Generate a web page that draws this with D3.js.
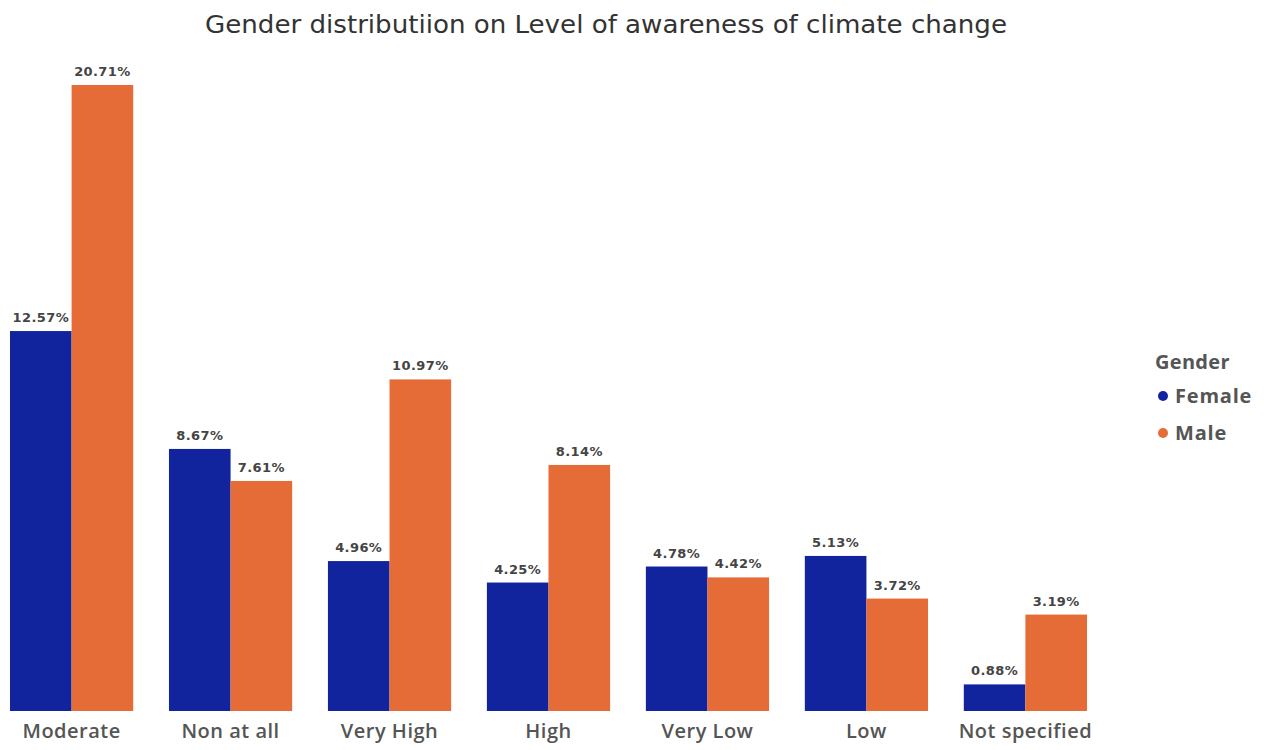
<!DOCTYPE html>
<html><head><meta charset="utf-8">
<script src="https://cdn.jsdelivr.net/npm/d3@7/dist/d3.min.js"></script>
<style>body{margin:0;background:#fff}svg{display:block}</style>
</head><body>
<svg id="c" width="1264" height="750"></svg>
<script>
const categories = ["Moderate","Non at all","Very High","High","Very Low","Low","Not specified"];
const seriesNames = ["Female","Male"];
const female = [12.57, 8.67, 4.96, 4.25, 4.78, 5.13, 0.88];
const male = [20.71, 7.61, 10.97, 8.14, 4.42, 3.72, 3.19];
const colors = ["#12239E","#E66C37"];
const title = "Gender distributiion on Level of awareness of climate change";

const svg = d3.select("#c");
const baseY = 711;
const x0 = d3.scaleBand().domain(categories).range([10,1087]).paddingInner(0.225).paddingOuter(0);
const x1 = d3.scaleBand().domain(seriesNames).range([0,x0.bandwidth()]);
const y = d3.scaleLinear().domain([0,20.71]).range([baseY,85]);
const color = d3.scaleOrdinal().domain(seriesNames).range(colors);

const data = categories.map((c,i)=>({c, vals:[{s:"Female",v:female[i]},{s:"Male",v:male[i]}]}));

svg.append("text").attr("x",606).attr("y",33).attr("text-anchor","middle")
  .attr("font-family","'DejaVu Sans Condensed','DejaVu Sans',sans-serif").attr("font-size",24)
  .attr("fill","#333").attr("textLength",802).attr("lengthAdjust","spacingAndGlyphs").text(title);

const g = svg.append("g");
const grp = g.selectAll("g.cat").data(data).join("g").attr("transform",d=>`translate(${x0(d.c)},0)`);
grp.selectAll("rect").data(d=>d.vals).join("rect")
  .attr("x",d=>x1(d.s)).attr("width",x1.bandwidth())
  .attr("y",d=>y(d.v)).attr("height",d=>baseY-y(d.v)).attr("fill",d=>color(d.s));
grp.selectAll("text.v").data(d=>d.vals).join("text").attr("class","v")
  .attr("x",d=>x1(d.s)+x1.bandwidth()/2).attr("y",d=>y(d.v)-9)
  .attr("text-anchor","middle").attr("font-family","'DejaVu Sans',sans-serif")
  .attr("font-size",13).attr("font-weight",600).attr("letter-spacing",0.4).attr("fill","#444").text(d=>d.v.toFixed(2)+"%");

const xAxis = d3.axisBottom(x0).tickSize(0).tickPadding(13);
const ax = svg.append("g").attr("transform",`translate(0,${baseY})`).call(xAxis);
ax.select(".domain").remove();
ax.selectAll("text").attr("font-family","'Open Sans',sans-serif").attr("font-size",20)
  .attr("font-weight",600).attr("letter-spacing",0.5).attr("fill","#555");

const lg = svg.append("g");
lg.append("text").attr("x",1155).attr("y",369).attr("font-family","'Open Sans',sans-serif")
  .attr("font-size",20).attr("font-weight",700).attr("letter-spacing",0.3).attr("fill","#555").text("Gender");
seriesNames.forEach((s,i)=>{
  const yy = 396 + i*37;
  lg.append("circle").attr("cx",1163).attr("cy",yy).attr("r",5).attr("fill",color(s));
  lg.append("text").attr("x",1175).attr("y",yy+7).attr("font-family","'Open Sans',sans-serif")
    .attr("font-size",20).attr("font-weight",700).attr("letter-spacing",0.8).attr("fill","#555").text(s);
});
</script>
</body></html>
